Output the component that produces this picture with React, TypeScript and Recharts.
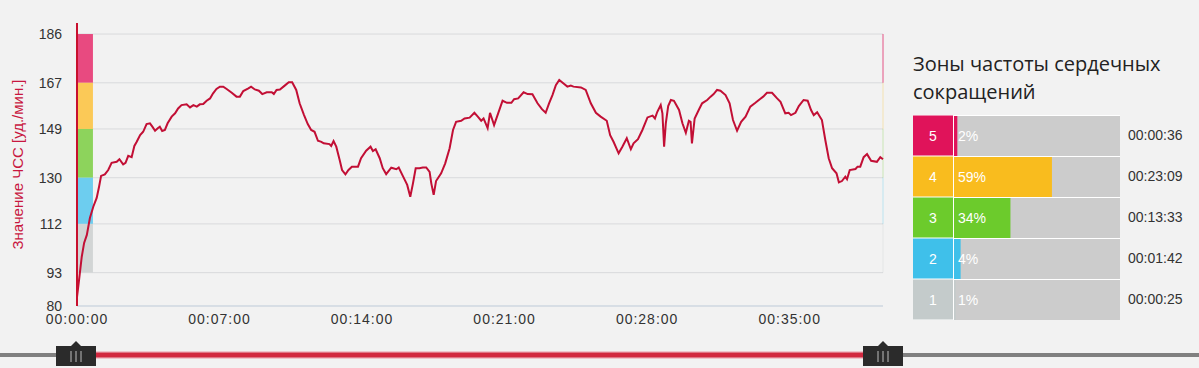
import { LineChart, Line, XAxis, YAxis, CartesianGrid, ReferenceArea, ReferenceLine, BarChart, Bar, Cell, LabelList } from 'recharts'

// heart rate trace: seconds since start / bpm
const timeSec = [0, 6, 14, 21, 29, 38, 48, 58, 65, 71, 82, 92, 102, 117, 125, 136, 143, 151, 161, 169, 176, 186, 195, 205, 215, 222, 230, 238, 244, 251, 259, 267, 279, 289, 298, 308, 323, 333, 343, 353, 362, 372, 382, 392, 401, 411, 421, 431, 441, 456, 470, 480, 490, 505, 513, 524, 536, 546, 559, 574, 580, 588, 598, 612, 624, 634, 646, 656, 669, 680, 690, 700, 710, 720, 727, 744, 749, 756, 764, 774, 781, 791, 800, 810, 828, 837, 852, 865, 872, 880, 892, 901, 911, 926, 941, 948, 960, 973, 982, 990, 998, 1009, 1019, 1029, 1039, 1044, 1051, 1058, 1073, 1085, 1098, 1108, 1117, 1132, 1142, 1157, 1171, 1181, 1191, 1198, 1210, 1217, 1229, 1241, 1254, 1267, 1280, 1288, 1300, 1316, 1328, 1342, 1357, 1370, 1381, 1391, 1401, 1411, 1421, 1431, 1445, 1455, 1463, 1485, 1499, 1514, 1529, 1543, 1561, 1571, 1581, 1596, 1607, 1620, 1632, 1640, 1653, 1666, 1681, 1696, 1703, 1710, 1720, 1725, 1730, 1735, 1742, 1750, 1759, 1774, 1784, 1794, 1803, 1808, 1812, 1820, 1832, 1842, 1857, 1867, 1876, 1886, 1896, 1911, 1923, 1933, 1945, 1957, 1970, 1984, 1999, 2012, 2022, 2033, 2048, 2063, 2073, 2087, 2097, 2104, 2117, 2127, 2141, 2153, 2163, 2171, 2181, 2195, 2205, 2215, 2225, 2238, 2245, 2254, 2264, 2269, 2277, 2294, 2300, 2308, 2318, 2328, 2340, 2357, 2367, 2375]
const heartRate = [83.5, 90.1, 99.2, 104.6, 107.7, 114.3, 118.7, 122.1, 126.5, 130.7, 131.3, 133.0, 135.8, 136.2, 137.2, 135.2, 135.8, 138.5, 138.0, 142.4, 144.0, 146.6, 147.9, 150.9, 151.2, 149.9, 148.3, 149.3, 149.9, 148.2, 148.6, 151.2, 153.8, 155.1, 157.0, 158.3, 158.6, 157.4, 158.3, 157.7, 158.6, 158.7, 160.0, 160.9, 162.9, 164.6, 165.5, 165.5, 164.6, 163.1, 161.6, 161.6, 163.8, 164.8, 165.5, 164.4, 163.9, 162.6, 163.3, 163.3, 162.6, 164.2, 164.4, 165.9, 167.2, 167.2, 164.2, 159.0, 154.4, 150.9, 148.6, 147.9, 144.4, 144.0, 143.4, 143.1, 142.4, 144.3, 142.1, 136.9, 133.0, 131.3, 133.0, 134.3, 134.3, 137.6, 140.5, 142.1, 140.4, 141.1, 137.6, 133.7, 131.4, 133.9, 133.3, 134.0, 130.7, 127.2, 122.6, 127.8, 133.7, 133.7, 134.0, 134.0, 132.3, 127.8, 123.3, 128.7, 131.7, 135.6, 141.5, 148.6, 151.8, 152.2, 153.1, 153.4, 155.3, 153.8, 152.2, 153.1, 149.3, 155.3, 150.5, 155.1, 160.0, 159.2, 159.2, 160.6, 160.9, 163.3, 162.6, 162.5, 159.0, 156.7, 155.3, 159.0, 162.2, 166.1, 168.1, 167.0, 165.5, 165.9, 165.5, 165.2, 164.2, 159.0, 155.3, 153.8, 152.2, 146.6, 144.0, 139.5, 142.1, 145.4, 141.1, 143.4, 145.0, 148.6, 153.5, 154.2, 153.1, 155.7, 158.3, 155.1, 142.1, 151.2, 157.9, 160.3, 160.0, 156.4, 151.2, 147.5, 152.2, 151.8, 143.4, 153.1, 156.4, 159.0, 160.3, 161.6, 162.6, 164.2, 163.9, 162.2, 159.0, 152.5, 148.3, 151.8, 153.8, 157.7, 159.2, 160.6, 161.6, 163.1, 163.1, 160.9, 159.6, 155.1, 155.3, 154.4, 155.3, 157.9, 160.3, 160.0, 156.4, 154.4, 155.5, 152.5, 144.7, 137.6, 133.7, 131.7, 128.2, 128.7, 130.4, 129.4, 133.0, 133.4, 134.3, 134.3, 138.0, 139.2, 136.6, 136.2, 138.0, 137.2]

const xTicks = [0, 420, 840, 1260, 1680, 2100]
const yTicks = [80, 93, 112, 130, 149, 167, 186]
const totalSec = 2375

// heart rate zones, top to bottom
const zoneIds = ['5', '4', '3', '2', '1']
const zonePct = [2, 59, 34, 4, 1]
const zoneTime = ['00:00:36', '00:23:09', '00:13:33', '00:01:42', '00:00:25']
const zoneLow = [167, 149, 130, 112, 93]
const zoneHigh = [186, 167, 149, 130, 112]
const zoneColor = ['#e0135a', '#f9bc1e', '#6ccb2c', '#3fc0ea', '#c4cbcb']
const bandColor = ['#e84a80', '#fbc957', '#8dd35c', '#6dcdef', '#d2d5d5']

const FONT = '"Liberation Sans", Arial, sans-serif'
const BAND_SEC = 47

const hrData = timeSec.map((t, i) => ({ t, hr: heartRate[i] }))
const zoneRows = zoneIds.map((zone, i) => ({ zone, pct: zonePct[i], time: zoneTime[i] }))

function fmtTime(sec: number) {
  const h = Math.floor(sec / 3600)
  const m = Math.floor((sec % 3600) / 60)
  const s = sec % 60
  const p = (n: number) => String(n).padStart(2, '0')
  return `${p(h)}:${p(m)}:${p(s)}`
}

function ZoneTick({ x, y, payload, index }: any) {
  return (
    <g>
      <rect x={x - 41} y={y - 20} width={40} height={40} fill={zoneColor[index]} />
      <text x={x - 21} y={y} dy={5} textAnchor="middle" fill="#fff" fontSize={14} fontFamily={FONT}>{payload.value}</text>
    </g>
  )
}

function Slider() {
  const left = 76
  const right = 883
  const handle = (cx: number) => (
    <g key={cx}>
      <path d={`M${cx - 5} 6 L${cx} 1 L${cx + 5} 6 Z`} fill="#2b2b2b" />
      <rect x={cx - 20} y={6} width={40} height={20} fill="#2b2b2b" />
      {[-5, 0, 5].map(d => <line key={d} x1={cx + d} x2={cx + d} y1={11} y2={22} stroke="#bdbdbd" strokeWidth={1} />)}
    </g>
  )
  return (
    <svg width={1199} height={28} style={{ position: 'absolute', left: 0, top: 340 }}>
      <rect x={0} y={13} width={1199} height={4} fill="#808080" />
      <rect x={left} y={11} width={right - left} height={8} fill="#e8415e" opacity={0.25} />
      <rect x={left} y={12.5} width={right - left} height={5} fill="#d2283f" />
      {handle(left)}
      {handle(right)}
    </svg>
  )
}

export default function App() {
  return (
    <div style={{ position: 'absolute', left: 0, top: 0, width: 1199, height: 368, background: '#f2f2f2', overflow: 'hidden' }}>
      <LineChart width={900} height={340} data={hrData} margin={{ top: 23, right: 17, bottom: 0, left: 0 }}>
        <CartesianGrid vertical={false} horizontalValues={yTicks} stroke="#d9dadc" />
        {zoneIds.map((z, i) => (
          <ReferenceArea key={'b' + z} x1={0} x2={BAND_SEC} y1={zoneLow[i]} y2={zoneHigh[i]} fill={bandColor[i]} fillOpacity={1} stroke="none" ifOverflow="hidden" />
        ))}
        {zoneIds.map((z, i) => (
          <ReferenceLine key={'r' + z} segment={[{ x: totalSec, y: zoneLow[i] }, { x: totalSec, y: zoneHigh[i] }]} stroke={zoneColor[i]} strokeOpacity={i === 0 ? 0.7 : 0.3} />
        ))}
        <XAxis dataKey="t" type="number" domain={[0, totalSec]} ticks={xTicks} tickFormatter={fmtTime} height={34}
          axisLine={{ stroke: '#c9d6e3' }} tickLine={false} tickSize={6} tickMargin={2}
          tick={{ fill: '#333', fontSize: 14, fontFamily: FONT, letterSpacing: 1 }} />
        <YAxis type="number" domain={[80, 190.3]} ticks={yTicks} width={77} allowDataOverflow
          axisLine={{ stroke: '#c8102e', strokeWidth: 2 }} tickLine={false} tickSize={0} tickMargin={15}
          tick={{ fill: '#333', fontSize: 14, fontFamily: FONT }}
          label={{ value: 'Значение ЧСС [уд./мин.]', angle: -90, position: 'insideLeft', offset: 18, style: { textAnchor: 'middle', fill: '#c8173f', fontSize: 15, fontFamily: FONT } }} />
        <Line dataKey="hr" type="linear" stroke="#c20f35" strokeWidth={2} dot={false} isAnimationActive={false} />
      </LineChart>

      <div style={{ position: 'absolute', left: 913, top: 50, width: 290, fontFamily: '"Open Sans", sans-serif', fontSize: 20, lineHeight: '27.6px', color: '#222' }}>
        Зоны частоты сердечных<br />сокращений
      </div>

      <div style={{ position: 'absolute', left: 913, top: 115, width: 207, height: 205, background: '#fff' }} />
      <div style={{ position: 'absolute', left: 900, top: 110 }}>
        <BarChart layout="vertical" width={299} height={215} data={zoneRows} margin={{ top: 5, right: 0, bottom: 5, left: 0 }}>
          <XAxis type="number" domain={[0, 100]} hide />
          <YAxis yAxisId="left" type="category" dataKey="zone" width={54} axisLine={false} tickLine={false} tickSize={0} tickMargin={0} tick={<ZoneTick />} />
          <YAxis yAxisId="right" orientation="right" type="category" dataKey="time" width={79} axisLine={false} tickLine={false} tickSize={0} tickMargin={8}
            tick={{ fill: '#333', fontSize: 14, fontFamily: FONT }} />
          <Bar yAxisId="left" dataKey="pct" barSize={40} background={{ fill: '#cccccc' }} isAnimationActive={false}>
            {zoneRows.map((r, i) => <Cell key={r.zone} fill={zoneColor[i]} />)}
            <LabelList dataKey="pct" position="insideLeft" offset={4} formatter={(v: any) => `${v}%`} fill="#fff" fontSize={14} fontFamily={FONT} />
          </Bar>
        </BarChart>
      </div>

      <Slider />
    </div>
  )
}
